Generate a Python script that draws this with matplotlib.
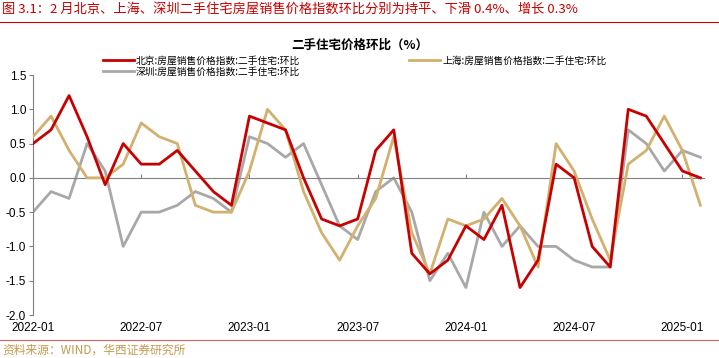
import numpy as np
import matplotlib
matplotlib.use("Agg")
import matplotlib.pyplot as plt

plt.rcParams['font.family'] = ['Noto Sans CJK SC', 'DejaVu Sans']

# monthly data 2022-01 .. 2025-02
months = ['2022-01', '2022-02', '2022-03', '2022-04', '2022-05', '2022-06',
          '2022-07', '2022-08', '2022-09', '2022-10', '2022-11', '2022-12',
          '2023-01', '2023-02', '2023-03', '2023-04', '2023-05', '2023-06',
          '2023-07', '2023-08', '2023-09', '2023-10', '2023-11', '2023-12',
          '2024-01', '2024-02', '2024-03', '2024-04', '2024-05', '2024-06',
          '2024-07', '2024-08', '2024-09', '2024-10', '2024-11', '2024-12',
          '2025-01', '2025-02']
beijing = [0.5, 0.7, 1.2, 0.6, -0.1, 0.5, 0.2, 0.2, 0.4, 0.1, -0.2, -0.4,
           0.9, 0.8, 0.7, 0.0, -0.6, -0.7, -0.6, 0.4, 0.7, -1.1, -1.4, -1.2,
           -0.7, -0.9, -0.4, -1.6, -1.2, 0.2, 0.0, -1.0, -1.3, 1.0, 0.9, 0.5,
           0.1, 0.0]
shanghai = [0.6, 0.9, 0.4, 0.0, 0.0, 0.2, 0.8, 0.6, 0.5, -0.4, -0.5, -0.5,
            0.1, 1.0, 0.7, -0.2, -0.8, -1.2, -0.7, -0.3, 0.6, -0.8, -1.4, -0.6,
            -0.7, -0.6, -0.3, -0.7, -1.3, 0.5, 0.1, -0.6, -1.2, 0.2, 0.4, 0.9,
            0.4, -0.4]
shenzhen = [-0.5, -0.2, -0.3, 0.5, 0.1, -1.0, -0.5, -0.5, -0.4, -0.2, -0.3, -0.5,
            0.6, 0.5, 0.3, 0.5, -0.1, -0.7, -0.9, -0.2, 0.0, -0.5, -1.5, -1.1,
            -1.6, -0.5, -1.0, -0.7, -1.0, -1.0, -1.2, -1.3, -1.3, 0.7, 0.5, 0.1,
            0.4, 0.3]
yticks = [1.5, 1.0, 0.5, 0.0, -0.5, -1.0, -1.5, -2.0]

red = '#C80000'
tan = '#D2B06E'
gray = '#A8A8A8'

x = np.arange(len(months))

fig = plt.figure(figsize=(7.19, 3.58), dpi=100)
ax = fig.add_axes([33/719, 1-315/358, 671/719, 240/358])

ax.plot(x, beijing, color=red, lw=2, label='北京:房屋销售价格指数:二手住宅:环比', zorder=4)
ax.plot(x, shenzhen, color=gray, lw=2, label='深圳:房屋销售价格指数:二手住宅:环比', zorder=2)
ax.plot(x, shanghai, color=tan, lw=2, label='上海:房屋销售价格指数:二手住宅:环比', zorder=3)

ax.set_xlim(0, 37.2)
ax.set_ylim(-2.0, 1.5)
ax.set_yticks(yticks)
ax.set_yticklabels(['%.1f' % v for v in yticks], family='Liberation Sans', fontsize=8.5)

for s in ['top', 'right']:
    ax.spines[s].set_visible(False)
ax.spines['left'].set_color('#808080')
ax.spines['bottom'].set_position(('data', 0))
ax.spines['bottom'].set_color('#808080')
ax.tick_params(axis='y', length=3, color='#808080', pad=2)

ticks = x[::6]
ax.set_xticks(ticks)
ax.tick_params(axis='x', direction='in', length=3, color='#808080', labelbottom=False)

sec = ax.secondary_xaxis(0.0)
sec.set_xticks(ticks)
sec.set_xticklabels([months[i] for i in ticks], family='Liberation Sans', fontsize=8.5)
sec.tick_params(length=0, pad=5)
sec.spines['bottom'].set_visible(False)

handles, labels = ax.get_legend_handles_labels()
leg = fig.legend(handles, labels,
                 ncol=2, loc='upper left', bbox_to_anchor=(98/719, 1-51/358),
                 frameon=False, fontsize=7, handlelength=3.2, handletextpad=0.2,
                 columnspacing=11.2, labelspacing=0.05, borderpad=0)

fig.text(360/719, 1-45/358, '二手住宅价格环比（%）', ha='center', va='center',
         fontsize=9, fontweight='bold')

fig.text(2/719, 1-9/358, '图 3.1：2 月北京、上海、深圳二手住宅房屋销售价格指数环比分别为持平、下滑 0.4%、增长 0.3%',
         ha='left', va='center', fontsize=9.5, color=red)
fig.add_artist(plt.Line2D([0, 1], [1-22/358, 1-22/358], color=red, lw=0.8))
fig.add_artist(plt.Line2D([0, 1], [1-340/358, 1-340/358], color='#E06060', lw=0.8))
fig.text(2/719, 1-350/358, '资料来源：WIND，华西证券研究所', ha='left', va='center',
         fontsize=8.5, color='#C49A50')

fig.savefig('out.png', dpi=100)
